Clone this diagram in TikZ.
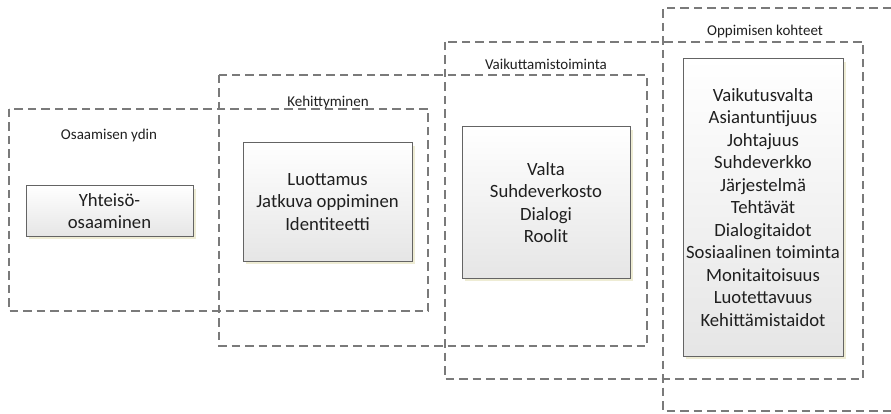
\documentclass[tikz,border=0pt]{standalone}
\usepackage{fontspec}
\setmainfont{Carlito}
\usetikzlibrary{positioning,shadows}

\definecolor{shadowc}{RGB}{222,218,170}
\definecolor{framec}{RGB}{122,122,122}
\definecolor{boxline}{RGB}{100,100,100}

\tikzset{
  frame/.style={draw=framec, dash pattern=on 8.5pt off 5pt, line width=1.1pt},
  topic/.style={draw=boxline, line width=1pt, top color=white, bottom color=black!10,
    align=center, text=black!88, font=\fontsize{18.7}{22.5}\selectfont, inner sep=0pt,
    drop shadow={shadow xshift=3pt, shadow yshift=-3pt, fill=shadowc, opacity=.5}},
  tag/.style={text=black!88, font=\fontsize{15}{17}\selectfont, inner sep=0pt}
}

\begin{document}
\begin{tikzpicture}[x=1pt,y=-1pt]
\useasboundingbox (0,0) rectangle (891,414);

% nested containers
\draw[frame] (9,109) rectangle (428,311);
\draw[frame] (219,75) rectangle (647,346);
\draw[frame] (445,42) rectangle (863,379);
\draw[frame] (891,8) -| (663,411) -- (891,411);

\node[tag] (l1) at (109,136) {Osaamisen ydin};
\node[tag] (l2) at (328,103) {Kehittyminen};
\node[tag] (l3) at (546,64) {Vaikuttamistoiminta};
\node[tag] (l4) at (765,32) {Oppimisen kohteet};

% contents
\node[topic, minimum width=167pt, minimum height=50pt] (b1) at (109.5,211)
  {Yhteisö-\\osaaminen};
\node[topic, minimum width=169pt, minimum height=118pt] (b2) at (327.5,202)
  {Luottamus\\Jatkuva oppiminen\\Identiteetti};
\node[topic, minimum width=168pt, minimum height=151pt] (b3) at (546,202.5)
  {Valta\\Suhdeverkosto\\Dialogi\\Roolit};
\node[topic, minimum width=160pt, minimum height=297pt] (b4) at (763,207.5)
  {Vaikutusvalta\\Asiantuntijuus\\Johtajuus\\Suhdeverkko\\Järjestelmä\\Tehtävät\\Dialogitaidot\\Sosiaalinen toiminta\\Monitaitoisuus\\Luotettavuus\\Kehittämistaidot};
\end{tikzpicture}
\end{document}
